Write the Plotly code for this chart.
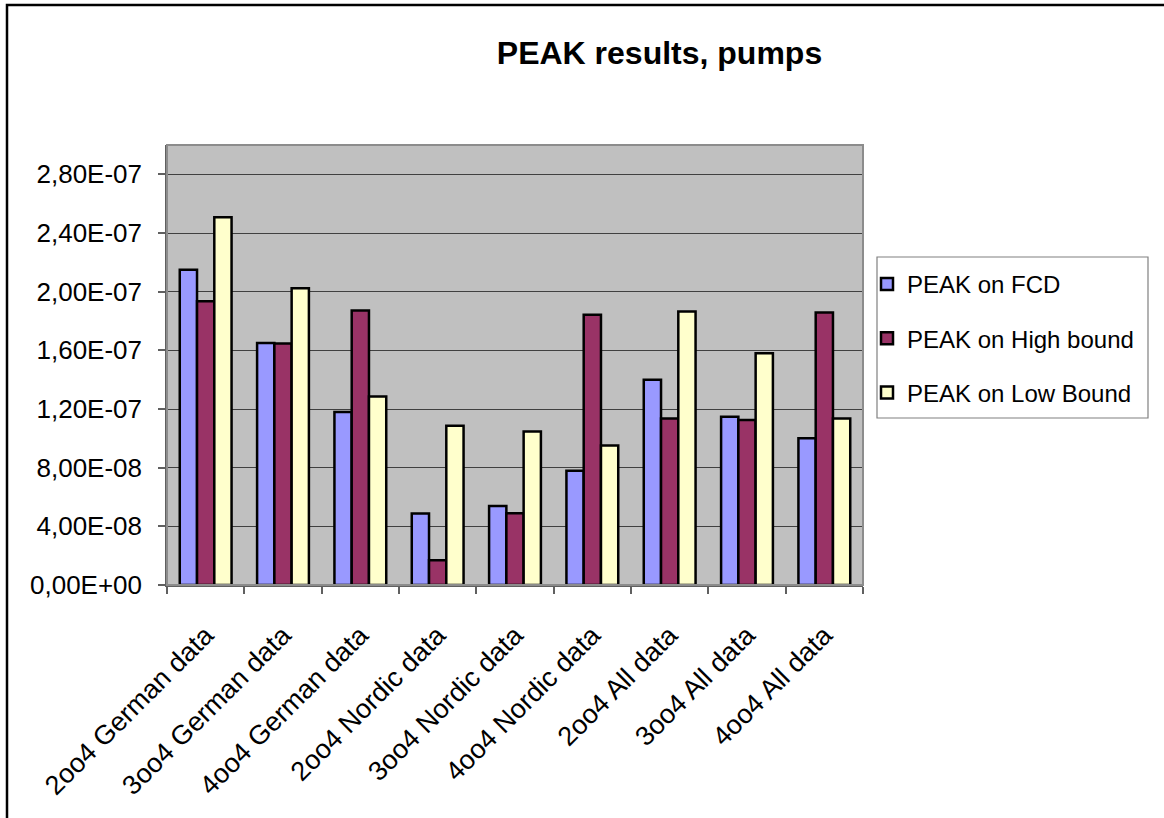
import plotly.graph_objects as go

# Categories (voting logic / data source)
categories = [
    "2oo4 German data", "3oo4 German data", "4oo4 German data",
    "2oo4 Nordic data", "3oo4 Nordic data", "4oo4 Nordic data",
    "2oo4 All data", "3oo4 All data", "4oo4 All data",
]

# PEAK estimates per series
peak_fcd = [2.15e-07, 1.65e-07, 1.18e-07, 4.87e-08, 5.39e-08, 7.79e-08, 1.40e-07, 1.147e-07, 1.00e-07]
peak_high = [1.935e-07, 1.646e-07, 1.871e-07, 1.69e-08, 4.90e-08, 1.842e-07, 1.136e-07, 1.125e-07, 1.858e-07]
peak_low = [2.508e-07, 2.023e-07, 1.286e-07, 1.086e-07, 1.047e-07, 9.51e-08, 1.864e-07, 1.58e-07, 1.136e-07]

series_names = ["PEAK on FCD", "PEAK on High bound", "PEAK on Low Bound"]

# Y axis ticks (decimal comma, Excel-style exponent)
y_tickvals = [0, 4e-08, 8e-08, 1.2e-07, 1.6e-07, 2.0e-07, 2.4e-07, 2.8e-07]
y_ticktext = ["0,00E+00", "4,00E-08", "8,00E-08", "1,20E-07", "1,60E-07",
              "2,00E-07", "2,40E-07", "2,80E-07"]
y_max = 3.0e-07

FONT = "Liberation Sans, Arial, sans-serif"
colors = ["#9999FF", "#993366", "#FFFFCC"]

W, H = 1164, 818
ML, MR, MT, MB = 167, 301, 145, 233
PW, PH = W - ML - MR, H - MT - MB


def px_x(x):
    return (x - ML) / PW


def px_y(y):
    return (H - MB - y) / PH


fig = go.Figure()
for i, (name, vals) in enumerate(zip(series_names, [peak_fcd, peak_high, peak_low])):
    fig.add_trace(go.Bar(
        x=categories, y=vals, name=name, legendgroup=name,
        marker=dict(color=colors[i], line=dict(color="black", width=2.5)),
    ))

shapes = [
    # plot-area frame
    dict(type="rect", xref="paper", yref="paper", x0=0, x1=1, y0=0, y1=1,
         line=dict(color="#8c8c8c", width=2), layer="above"),
    # outer chart frame
    dict(type="rect", xref="paper", yref="paper",
         x0=px_x(7), x1=px_x(W + 40), y0=px_y(H + 40), y1=px_y(5),
         line=dict(color="black", width=2.5), layer="above"),
    # legend frame
    dict(type="rect", xref="paper", yref="paper",
         x0=px_x(877), x1=px_x(1148), y0=px_y(418), y1=px_y(257),
         line=dict(color="#808080", width=1.2), fillcolor="white", layer="above"),
]

fig.update_layout(
    width=W, height=H,
    margin=dict(l=ML, r=MR, t=MT, b=MB, pad=0),
    paper_bgcolor="white",
    plot_bgcolor="#C0C0C0",
    barmode="group", bargap=0.33, bargroupgap=0,
    font=dict(family=FONT, size=26, color="black"),
    title=dict(text="<b>PEAK results, pumps</b>", font=dict(family=FONT, size=32, color="black"),
               xref="paper", x=px_x(659.5), xanchor="center",
               yref="container", y=1 - 53 / H, yanchor="middle"),
    showlegend=True,
    legend=dict(
        x=px_x(867), xanchor="left", y=px_y(262), yanchor="top",
        bgcolor="rgba(0,0,0,0)", borderwidth=0,
        font=dict(family=FONT, size=24, color="black"),
        traceorder="grouped", tracegroupgap=20,
    ),
    shapes=shapes,
)

fig.update_xaxes(
    type="category", showline=True, linecolor="#606060", linewidth=1.5,
    ticks="outside", tickson="boundaries", ticklen=7, tickcolor="#606060", tickwidth=1.5,
    tickangle=-45, ticklabelstandoff=22, tickfont=dict(family=FONT, size=27),
    showgrid=False,
)
fig.update_yaxes(
    range=[0, y_max], tickvals=y_tickvals, ticktext=y_ticktext,
    showline=True, linecolor="#606060", linewidth=1.5,
    ticks="outside", ticklen=7, tickcolor="#606060", tickwidth=1.5,
    ticklabelstandoff=11, tickfont=dict(family=FONT, size=26),
    showgrid=True, gridcolor="#404040", gridwidth=1, zeroline=False,
)

fig.write_html("out.html")
